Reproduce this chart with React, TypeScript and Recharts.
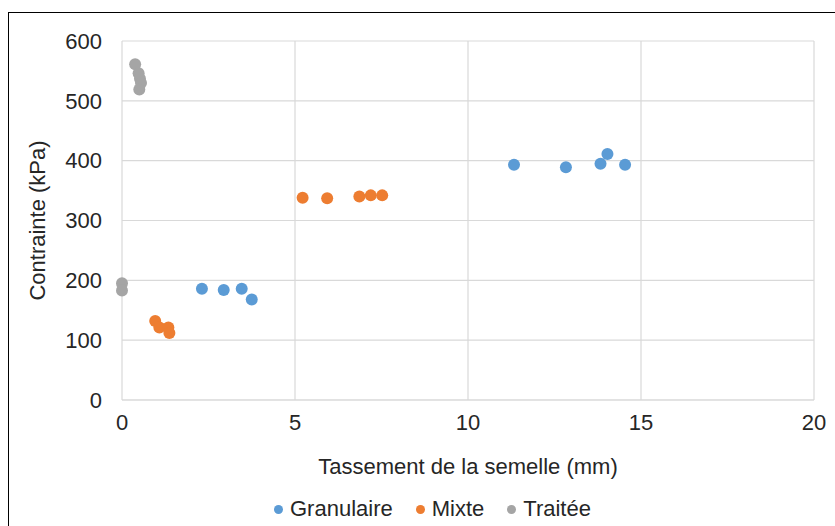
import React from "react";
import {
  ScatterChart,
  Scatter,
  XAxis,
  YAxis,
  CartesianGrid,
  Legend,
} from "recharts";

// settlement (mm) / stress (kPa)
const granulaireX = [2.31, 2.94, 3.46, 3.75, 11.33, 12.83, 13.83, 14.03, 14.54];
const granulaireY = [186, 184, 186, 168, 393, 389, 395, 411, 393];

const mixteX = [0.96, 1.08, 1.34, 1.37, 5.22, 5.93, 6.86, 7.19, 7.52];
const mixteY = [132, 121, 121, 112, 338, 337, 340, 342, 342];

const traiteeX = [0, 0, 0.38, 0.48, 0.52, 0.55, 0.5];
const traiteeY = [195, 183, 561, 546, 537, 530, 519];

const xTicks = [0, 5, 10, 15, 20];
const yTicks = [0, 100, 200, 300, 400, 500, 600];

const toPoints = (xs: number[], ys: number[]) =>
  xs.map((x, i) => ({ x, y: ys[i] }));

const FONT = "'Liberation Sans', Arial, sans-serif";
const TEXT = "#262626";
const FS = 22;

const series = [
  { name: "Granulaire", color: "#5B9BD5", data: toPoints(granulaireX, granulaireY) },
  { name: "Mixte", color: "#ED7D31", data: toPoints(mixteX, mixteY) },
  { name: "Traitée", color: "#A5A5A5", data: toPoints(traiteeX, traiteeY) },
];

const Dot = (props: any) => {
  const { cx, cy, fill } = props;
  return <circle cx={cx} cy={cy} r={6} fill={fill} />;
};

const LegendContent = () => (
  <div style={{ display: "flex", alignItems: "center", fontFamily: FONT, fontSize: FS, color: TEXT, lineHeight: "24px" }}>
    {series.map((s) => (
      <div key={s.name} style={{ display: "flex", alignItems: "center", marginRight: 23 }}>
        <span
          style={{
            width: 9,
            height: 9,
            borderRadius: "50%",
            background: s.color,
            display: "inline-block",
            marginRight: 7,
          }}
        />
        {s.name}
      </div>
    ))}
  </div>
);

export default function App() {
  return (
    <div style={{ position: "absolute", left: 0, top: 0, width: 835, height: 526, overflow: "hidden", background: "#fff" }}>
      <div
        style={{
          position: "absolute",
          left: 8,
          top: 12,
          width: 900,
          height: 600,
          border: "1.5px solid #000",
          boxSizing: "border-box",
        }}
      />
      {/* bottom margin already has the legend's own height taken off */}
      <ScatterChart
        width={835}
        height={526}
        margin={{ top: 41, right: 21, left: 62, bottom: 72 }}
        style={{ position: "absolute", left: 0, top: 0 }}
      >
        <CartesianGrid stroke="#D9D9D9" strokeWidth={1.2} verticalValues={xTicks} horizontalValues={yTicks} />
        <XAxis
          type="number"
          dataKey="x"
          domain={[0, 20]}
          ticks={xTicks}
          height={30}
          axisLine={{ stroke: "#D9D9D9" }}
          tickLine={false}
          tickMargin={8}
          tick={{ fontSize: FS, fill: TEXT, fontFamily: FONT }}
          label={{
            value: "Tassement de la semelle (mm)",
            position: "insideBottom",
            offset: -44,
            style: { fontSize: FS, fill: TEXT, fontFamily: FONT },
          }}
        />
        <YAxis
          type="number"
          dataKey="y"
          domain={[0, 600]}
          ticks={yTicks}
          width={60}
          axisLine={false}
          tickLine={false}
          tickMargin={14}
          tick={{ fontSize: FS, fill: TEXT, fontFamily: FONT }}
          label={{
            value: "Contrainte (kPa)",
            angle: -90,
            position: "insideLeft",
            offset: -25,
            style: { fontSize: FS, fill: TEXT, fontFamily: FONT, textAnchor: "middle" },
          }}
        />
        <Legend
          content={<LegendContent />}
          wrapperStyle={{ position: "absolute", left: 274, top: 497, width: "auto", bottom: "auto" }}
        />
        {series.map((s) => (
          <Scatter
            key={s.name}
            name={s.name}
            data={s.data}
            fill={s.color}
            shape={<Dot />}
            isAnimationActive={false}
          />
        ))}
      </ScatterChart>
    </div>
  );
}
